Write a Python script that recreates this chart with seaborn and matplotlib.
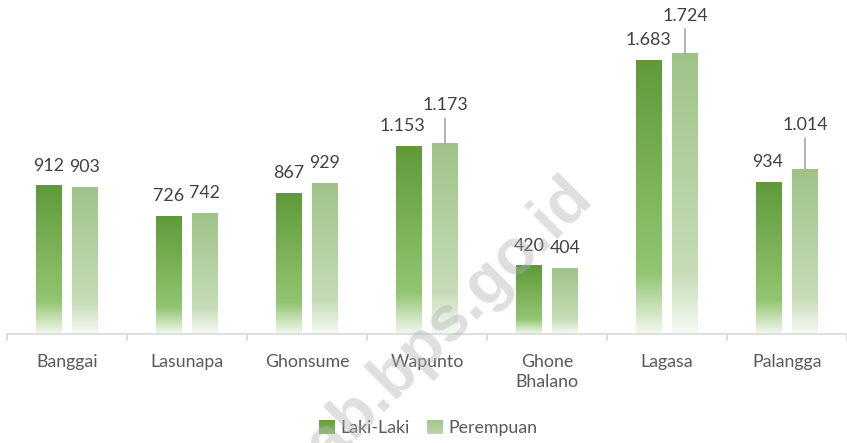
import numpy as np
import pandas as pd
import matplotlib
matplotlib.use("Agg")
import matplotlib.pyplot as plt
from matplotlib.colors import LinearSegmentedColormap
from matplotlib.patches import Patch
import seaborn as sns

# data
desa = ['Banggai', 'Lasunapa', 'Ghonsume', 'Wapunto', 'Ghone\nBhalano', 'Lagasa', 'Palangga']
laki = [912, 726, 867, 1153, 420, 1683, 934]
perempuan = [903, 742, 929, 1173, 404, 1724, 1014]
seri = ['Laki-Laki', 'Perempuan']

# gradient colours per series: bottom, lower stop, top
grad = {
    'Laki-Laki': ['#f3f8ef', '#93c571', '#5f9a3a'],
    'Perempuan': ['#f6f9f4', '#c6dcb8', '#9fc387'],
}
# label tweaks (dx, dy in pixels, leader line)
label_pos = {
    ('Wapunto', 'Laki-Laki'): (-7, 21, False),
    ('Wapunto', 'Perempuan'): (0, 38, True),
    ('Lagasa', 'Laki-Laki'): (-1, 21, False),
    ('Lagasa', 'Perempuan'): (0, 38, True),
    ('Palangga', 'Laki-Laki'): (-1, 20, False),
    ('Palangga', 'Perempuan'): (0, 44, True),
}

df = pd.DataFrame({
    'Desa': desa * 2,
    'Jenis': [seri[0]] * len(desa) + [seri[1]] * len(desa),
    'Jumlah': laki + perempuan,
})

sns.set_theme(style='white')
plt.rcParams['font.family'] = ['Lato', 'DejaVu Sans']

fig = plt.figure(figsize=(8.47, 4.43), dpi=100)
ax = fig.add_axes([7 / 847, 109 / 443, 840 / 847, 325 / 443])

sns.barplot(data=df, x='Desa', y='Jumlah', hue='Jenis', hue_order=seri,
            palette=[grad[s][2] for s in seri], width=0.6, gap=0.28,
            legend=False, ax=ax)

cmaps = {s: LinearSegmentedColormap.from_list(s, [(0, grad[s][0]), (0.22, grad[s][1]), (1, grad[s][2])])
         for s in seri}
ramp = np.linspace(0, 1, 256).reshape(-1, 1)

# replace flat fills by vertical gradients
for s, cont in zip(seri, ax.containers):
    for rect in cont:
        x0, w, h = rect.get_x(), rect.get_width(), rect.get_height()
        ax.imshow(ramp, cmap=cmaps[s], origin='lower', aspect='auto',
                  extent=(x0, x0 + w, 0, h), zorder=2)
        rect.set_visible(False)

ax.set_xlim(-0.5, len(desa) - 0.5)
ax.set_ylim(0, 2000)

# value labels
for s, cont in zip(seri, ax.containers):
    for d, rect in zip(desa, cont):
        h = rect.get_height()
        xc = rect.get_x() + rect.get_width() / 2
        dx, dy, lead = label_pos.get((d, s), (0, 20, False))
        txt = f'{h:,.0f}'.replace(',', '.')
        ax.annotate(txt, xy=(xc, h), xytext=(dx, dy), textcoords='offset pixels',
                    ha='center', va='center', fontsize=12.8, color='#404040', zorder=5)
        if lead:
            ax.annotate('', xy=(xc, h), xytext=(0, dy - 13), textcoords='offset pixels',
                        arrowprops=dict(arrowstyle='-', color='#a6a6a6', lw=1.2,
                                        shrinkA=0, shrinkB=0), zorder=5)

# axes styling
for sp in ['top', 'right', 'left']:
    ax.spines[sp].set_visible(False)
ax.spines['bottom'].set_color('#d9d9d9')
ax.spines['bottom'].set_linewidth(1.2)
ax.set_yticks([])
ax.set_xlabel('')
ax.set_ylabel('')
ax.set_xticks(np.arange(-0.5, len(desa)), minor=True)
ax.tick_params(axis='x', which='minor', length=5, width=1.2, color='#d9d9d9', bottom=True)
ax.tick_params(axis='x', which='major', length=0, pad=14.5, labelsize=12.8, labelcolor='#595959')
for lab in ax.get_xticklabels():
    lab.set_va('top')
    lab.set_linespacing(1.3)

# legend
handles = [Patch(facecolor='none', edgecolor='none') for s in seri]
leg = fig.legend(handles, seri, loc='center', bbox_to_anchor=(428 / 847, 15 / 443), ncol=2,
                 frameon=False, fontsize=12.8, labelcolor='#595959', handlelength=0.9,
                 handleheight=0.9, handletextpad=0.3, columnspacing=1.0)

# gradient swatches on the legend handles
fig.canvas.draw()
rend = fig.canvas.get_renderer()
for s, hp in zip(seri, leg.legend_handles):
    bb = hp.get_window_extent(rend).transformed(fig.transFigure.inverted())
    sw = fig.add_axes([bb.x0, bb.y0, bb.width, bb.height])
    sw.imshow(ramp, cmap=cmaps[s], origin='lower', aspect='auto', vmin=-0.6, vmax=1)
    sw.axis('off')

# watermark
fig.text(594 / 847, 1 - 198 / 443, 'banggailautkab.bps.go.id', rotation=45,
         rotation_mode='anchor', ha='right', va='baseline', fontsize=46,
         fontweight='bold', family='Liberation Sans', color='#b0b0b0', alpha=0.4, zorder=10)

fig.savefig('out.png', dpi=100)
